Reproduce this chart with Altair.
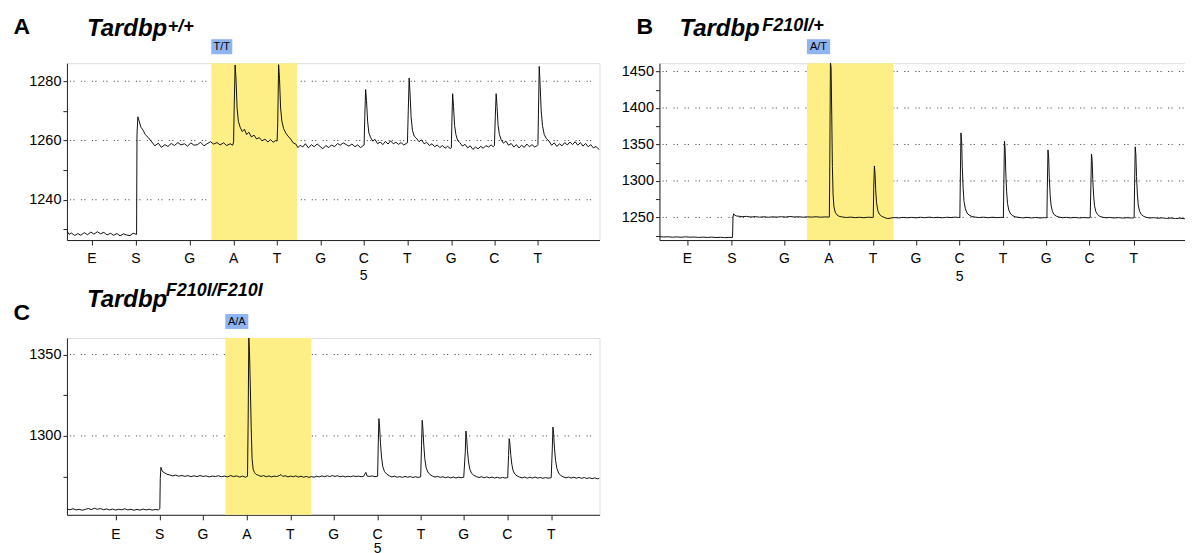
import altair as alt
import pandas as pd

FONT = "Liberation Sans"
W, H = 533, 177
XMAX = 12.24

# dispensation order (x-axis labels)
DISP = ["E", "S", "G", "A", "T", "G", "C", "T", "G", "C", "T"]
POS_A = [0.575, 1.586, 2.82, 3.83, 4.83, 5.83, 6.82, 7.82, 8.83, 9.82, 10.82]
POS_B = [0.644, 1.664, 2.874, 3.894, 4.906, 5.894, 6.897, 7.894, 8.89, 9.885, 10.9]
POS_C = [1.126, 2.129, 3.126, 4.138, 5.133, 6.13, 7.14, 8.14, 9.12, 10.12, 11.13]

# y axes
YDOM_A = [1226.4, 1286.1]
YTICK_A = [1230, 1240, 1250, 1260, 1270, 1280]
YLAB_A = [1240, 1260, 1280]
YDOM_B = [1219.0, 1461.4]
YTICK_B = [1225, 1250, 1275, 1300, 1325, 1350, 1375, 1400, 1425, 1450]
YLAB_B = [1250, 1300, 1350, 1400, 1450]
YDOM_C = [1251.5, 1360.2]
YTICK_C = [1275, 1300, 1325, 1350]
YLAB_C = [1300, 1350]

# highlighted variant position and genotype calls
HL_A = [3.32, 5.29]
HL_B = [3.39, 5.38]
HL_C = [3.64, 5.62]
CALL_A = ["T/T", 3.317, 3.80]
CALL_B = ["A/T", 3.389, 3.924]
CALL_C = ["A/A", 3.639, 4.168]

TRACE_A = [
    (0.00, 1229.5), (0.05, 1228.3), (0.10, 1228.8), (0.18, 1227.9), (0.25, 1228.6), (0.32, 1228.0),
    (0.40, 1228.9), (0.47, 1228.2), (0.55, 1229.1), (0.62, 1228.4), (0.70, 1229.2), (0.77, 1228.5),
    (0.85, 1229.0), (0.92, 1228.1), (1.00, 1228.7), (1.07, 1228.0), (1.15, 1228.6), (1.22, 1227.8),
    (1.30, 1228.5), (1.37, 1228.1), (1.45, 1227.9), (1.52, 1228.7), (1.60, 1228.3),
    (1.61, 1262.0), (1.63, 1268.0), (1.66, 1266.5), (1.70, 1264.5), (1.75, 1263.5), (1.80, 1262.0),
    (1.87, 1261.0), (1.95, 1259.5), (2.02, 1258.2), (2.10, 1259.1), (2.17, 1257.7), (2.25, 1258.6),
    (2.32, 1258.0), (2.40, 1259.0), (2.47, 1258.3), (2.55, 1259.3), (2.62, 1258.5), (2.70, 1258.9),
    (2.77, 1258.1), (2.85, 1259.2), (2.92, 1258.4), (3.00, 1258.6), (3.07, 1259.4), (3.15, 1258.2),
    (3.22, 1258.9), (3.30, 1259.6), (3.37, 1258.8), (3.45, 1259.3), (3.52, 1258.5), (3.60, 1259.2),
    (3.67, 1258.3), (3.75, 1258.9), (3.81, 1258.4), (3.83, 1259.5),
    (3.845, 1272.0), (3.865, 1285.5), (3.885, 1281.0), (3.91, 1271.0), (3.94, 1266.5), (3.98, 1264.5),
    (4.03, 1263.0), (4.08, 1263.8), (4.13, 1262.0), (4.18, 1262.8), (4.24, 1261.2), (4.30, 1261.8),
    (4.36, 1260.5), (4.42, 1261.0), (4.48, 1259.9), (4.55, 1260.4), (4.62, 1259.5), (4.68, 1260.3),
    (4.74, 1259.4), (4.80, 1260.0), (4.83, 1259.8),
    (4.845, 1266.0), (4.865, 1285.6), (4.885, 1281.0), (4.91, 1271.0), (4.94, 1266.5), (4.98, 1264.0),
    (5.03, 1262.5), (5.08, 1261.5), (5.14, 1260.5), (5.20, 1259.2), (5.26, 1258.8), (5.31, 1257.6),
    (5.36, 1258.4), (5.42, 1257.8), (5.48, 1258.9), (5.55, 1257.5), (5.62, 1258.6), (5.68, 1257.9),
    (5.75, 1258.8), (5.82, 1258.0), (5.88, 1257.2), (5.95, 1258.3), (6.02, 1257.6), (6.08, 1258.5),
    (6.15, 1257.9), (6.22, 1259.0), (6.28, 1258.4), (6.35, 1259.2), (6.42, 1258.6), (6.48, 1258.1),
    (6.55, 1258.8), (6.62, 1257.9), (6.68, 1258.5), (6.75, 1257.6), (6.80, 1258.2), (6.83, 1258.5),
    (6.845, 1268.0), (6.865, 1277.2), (6.885, 1273.5), (6.91, 1266.5), (6.94, 1262.5), (6.98, 1261.0),
    (7.03, 1259.8), (7.08, 1260.4), (7.14, 1258.9), (7.20, 1259.5), (7.26, 1258.6), (7.32, 1259.7),
    (7.38, 1258.8), (7.44, 1259.9), (7.50, 1258.9), (7.56, 1259.4), (7.62, 1258.7), (7.68, 1259.3),
    (7.74, 1258.5), (7.80, 1259.0), (7.825, 1259.2),
    (7.845, 1270.0), (7.865, 1281.1), (7.885, 1276.0), (7.91, 1268.0), (7.94, 1263.5), (7.98, 1261.5),
    (8.03, 1260.8), (8.09, 1259.6), (8.15, 1260.2), (8.21, 1258.9), (8.27, 1259.4), (8.33, 1258.3),
    (8.39, 1258.9), (8.45, 1257.9), (8.51, 1258.5), (8.57, 1257.6), (8.63, 1258.3), (8.69, 1257.4),
    (8.75, 1258.0), (8.81, 1257.3), (8.835, 1257.5),
    (8.85, 1268.0), (8.865, 1275.8), (8.885, 1271.5), (8.91, 1265.0), (8.94, 1262.0), (8.98, 1260.0),
    (9.03, 1259.3), (9.09, 1258.1), (9.15, 1258.7), (9.21, 1257.5), (9.27, 1258.2), (9.33, 1257.0),
    (9.39, 1257.8), (9.45, 1257.2), (9.51, 1258.0), (9.57, 1257.4), (9.63, 1258.3), (9.69, 1257.8),
    (9.75, 1258.5), (9.80, 1257.9), (9.825, 1258.3),
    (9.845, 1268.0), (9.865, 1275.8), (9.885, 1271.5), (9.91, 1265.0), (9.94, 1262.0), (9.98, 1260.3),
    (10.03, 1259.1), (10.09, 1259.8), (10.15, 1258.4), (10.21, 1259.0), (10.27, 1257.8), (10.33, 1258.6),
    (10.39, 1257.5), (10.45, 1258.4), (10.51, 1257.7), (10.57, 1258.8), (10.63, 1257.9), (10.69, 1258.6),
    (10.75, 1257.8), (10.81, 1258.3), (10.825, 1258.6),
    (10.84, 1272.0), (10.855, 1285.0), (10.875, 1279.0), (10.90, 1270.0), (10.93, 1265.0), (10.97, 1262.0),
    (11.02, 1260.6), (11.08, 1259.8), (11.14, 1258.4), (11.20, 1259.2), (11.26, 1258.0), (11.32, 1258.9),
    (11.38, 1258.2), (11.44, 1259.3), (11.50, 1258.5), (11.56, 1259.5), (11.62, 1258.6), (11.68, 1259.6),
    (11.74, 1258.4), (11.80, 1259.3), (11.86, 1258.1), (11.92, 1259.0), (11.98, 1257.9), (12.04, 1258.6),
    (12.10, 1257.5), (12.16, 1258.0), (12.24, 1256.8),
]

TRACE_B = [
    (0.00, 1223.6), (0.10, 1223.2), (0.20, 1223.5), (0.30, 1222.9), (0.40, 1223.3), (0.50, 1222.8),
    (0.60, 1223.4), (0.70, 1222.9), (0.80, 1223.1), (0.90, 1222.6), (1.00, 1223.0), (1.10, 1222.5),
    (1.20, 1223.0), (1.30, 1222.4), (1.40, 1222.8), (1.50, 1222.3), (1.60, 1222.7), (1.68, 1222.5),
    (1.69, 1250.0), (1.705, 1255.0), (1.73, 1253.0), (1.77, 1252.0), (1.83, 1251.6), (1.90, 1251.0),
    (2.00, 1251.4), (2.10, 1250.6), (2.20, 1251.1), (2.30, 1250.3), (2.40, 1250.9), (2.50, 1250.2),
    (2.60, 1250.8), (2.70, 1250.4), (2.80, 1251.0), (2.90, 1250.5), (3.00, 1251.2), (3.10, 1250.6),
    (3.20, 1250.9), (3.30, 1250.3), (3.40, 1250.8), (3.50, 1250.4), (3.60, 1250.9), (3.70, 1250.3),
    (3.80, 1250.7), (3.88, 1250.5), (3.905, 1250.6),
    (3.915, 1320.0), (3.93, 1463.0), (3.945, 1455.0), (3.96, 1390.0), (3.975, 1320.0), (3.99, 1282.0),
    (4.01, 1265.0), (4.04, 1257.0), (4.08, 1253.5), (4.13, 1251.5), (4.20, 1250.6), (4.30, 1249.9),
    (4.40, 1250.4), (4.50, 1249.7), (4.60, 1250.2), (4.70, 1249.6), (4.80, 1250.3), (4.90, 1249.9),
    (4.915, 1250.0),
    (4.925, 1290.0), (4.94, 1320.6), (4.955, 1310.0), (4.97, 1288.0), (4.99, 1270.0), (5.02, 1259.0),
    (5.06, 1254.0), (5.11, 1251.5), (5.18, 1249.6), (5.25, 1248.4), (5.32, 1249.2), (5.40, 1249.8),
    (5.50, 1249.3), (5.60, 1250.0), (5.70, 1249.5), (5.80, 1250.1), (5.90, 1249.4), (6.00, 1250.2),
    (6.10, 1249.6), (6.20, 1250.3), (6.30, 1249.7), (6.40, 1250.1), (6.50, 1249.5), (6.60, 1250.2),
    (6.70, 1249.8), (6.80, 1250.4), (6.88, 1249.9), (6.905, 1250.0),
    (6.915, 1300.0), (6.93, 1365.9), (6.945, 1355.0), (6.96, 1320.0), (6.98, 1290.0), (7.00, 1272.0),
    (7.03, 1262.0), (7.07, 1256.0), (7.12, 1253.0), (7.18, 1251.3), (7.26, 1250.4), (7.35, 1249.8),
    (7.45, 1250.3), (7.55, 1249.6), (7.65, 1250.2), (7.75, 1249.7), (7.85, 1250.1), (7.905, 1249.9),
    (7.915, 1295.0), (7.93, 1354.4), (7.945, 1344.0), (7.96, 1312.0), (7.98, 1285.0), (8.00, 1269.0),
    (8.03, 1260.0), (8.07, 1255.0), (8.12, 1252.3), (8.18, 1250.8), (8.26, 1250.0), (8.35, 1249.4),
    (8.45, 1250.0), (8.55, 1249.3), (8.65, 1249.9), (8.75, 1249.2), (8.85, 1249.7), (8.905, 1249.4),
    (8.915, 1290.0), (8.93, 1342.6), (8.945, 1333.0), (8.96, 1305.0), (8.98, 1281.0), (9.00, 1267.0),
    (9.03, 1258.5), (9.07, 1254.0), (9.12, 1251.8), (9.18, 1250.5), (9.26, 1249.6), (9.35, 1250.1),
    (9.45, 1249.4), (9.55, 1250.0), (9.65, 1249.3), (9.75, 1249.8), (9.85, 1249.5), (9.90, 1249.7),
    (9.915, 1290.0), (9.93, 1337.0), (9.945, 1328.0), (9.96, 1302.0), (9.98, 1279.0), (10.00, 1266.0),
    (10.03, 1258.0), (10.07, 1253.8), (10.12, 1251.5), (10.18, 1250.3), (10.26, 1249.5), (10.35, 1250.0),
    (10.45, 1249.2), (10.55, 1249.8), (10.65, 1249.1), (10.75, 1249.6), (10.85, 1249.2), (10.91, 1249.4),
    (10.92, 1292.0), (10.935, 1346.7), (10.95, 1336.0), (10.965, 1306.0), (10.985, 1282.0), (11.005, 1267.0),
    (11.035, 1258.5), (11.075, 1254.0), (11.125, 1251.6), (11.19, 1250.0), (11.27, 1249.2), (11.36, 1249.7),
    (11.46, 1248.9), (11.56, 1249.4), (11.66, 1248.6), (11.76, 1249.2), (11.86, 1248.4), (11.96, 1249.0),
    (12.06, 1248.2), (12.16, 1248.8), (12.24, 1248.3),
]

TRACE_C = [
    (0.00, 1255.0), (0.07, 1254.6), (0.14, 1255.2), (0.21, 1254.5), (0.28, 1254.9), (0.35, 1254.3),
    (0.42, 1254.8), (0.49, 1255.4), (0.56, 1254.7), (0.63, 1255.5), (0.70, 1254.9), (0.77, 1255.3),
    (0.84, 1254.6), (0.91, 1255.1), (0.98, 1254.5), (1.05, 1255.0), (1.12, 1254.4), (1.19, 1254.9),
    (1.26, 1254.6), (1.33, 1255.2), (1.40, 1254.5), (1.47, 1254.9), (1.54, 1254.3), (1.61, 1254.8),
    (1.68, 1254.4), (1.75, 1255.0), (1.82, 1254.5), (1.89, 1254.9), (1.96, 1254.4), (2.03, 1254.8),
    (2.10, 1254.5), (2.135, 1255.2),
    (2.145, 1274.0), (2.16, 1280.7), (2.18, 1279.0), (2.21, 1277.8), (2.25, 1277.2), (2.30, 1276.4),
    (2.36, 1276.0), (2.43, 1275.4), (2.50, 1275.9), (2.57, 1275.2), (2.64, 1275.7), (2.71, 1275.1),
    (2.78, 1275.6), (2.85, 1274.9), (2.92, 1275.5), (2.99, 1275.0), (3.06, 1275.6), (3.13, 1275.1),
    (3.20, 1275.4), (3.27, 1274.8), (3.34, 1275.3), (3.41, 1275.0), (3.48, 1275.5), (3.55, 1274.9),
    (3.62, 1275.3), (3.69, 1274.8), (3.76, 1275.6), (3.83, 1275.0), (3.90, 1275.4), (3.97, 1274.7),
    (4.04, 1275.3), (4.10, 1274.6), (4.15, 1275.2),
    (4.165, 1310.0), (4.18, 1360.5), (4.195, 1352.0), (4.215, 1330.0), (4.235, 1305.0), (4.255, 1286.0),
    (4.28, 1279.5), (4.31, 1277.5), (4.35, 1276.3), (4.40, 1275.8), (4.46, 1275.1), (4.52, 1275.6),
    (4.58, 1274.9), (4.64, 1275.4), (4.70, 1274.8), (4.76, 1275.3), (4.82, 1275.0), (4.88, 1275.6),
    (4.92, 1276.2), (4.96, 1275.1), (5.02, 1275.5), (5.08, 1274.8), (5.14, 1275.3), (5.20, 1274.9),
    (5.26, 1275.4), (5.32, 1274.7), (5.38, 1275.2), (5.44, 1274.6), (5.50, 1275.1), (5.56, 1274.5),
    (5.62, 1275.0), (5.68, 1274.6), (5.74, 1275.2), (5.80, 1274.8), (5.86, 1275.4), (5.92, 1274.9),
    (5.98, 1275.5), (6.04, 1275.0), (6.10, 1275.6), (6.16, 1275.1), (6.22, 1275.5), (6.28, 1274.9),
    (6.34, 1275.3), (6.40, 1274.8), (6.46, 1275.2), (6.52, 1274.9), (6.58, 1275.4), (6.64, 1275.0),
    (6.70, 1275.3), (6.76, 1274.9), (6.82, 1275.2), (6.87, 1277.6), (6.90, 1275.3), (6.96, 1275.1),
    (7.02, 1275.4), (7.08, 1274.9), (7.14, 1275.2),
    (7.155, 1295.0), (7.17, 1310.6), (7.185, 1306.0), (7.205, 1296.0), (7.23, 1287.0), (7.26, 1281.0),
    (7.30, 1278.0), (7.35, 1276.5), (7.41, 1275.4), (7.47, 1274.8), (7.53, 1275.2), (7.59, 1274.6),
    (7.65, 1275.0), (7.71, 1274.5), (7.77, 1275.1), (7.83, 1274.6), (7.89, 1275.0), (7.95, 1274.4),
    (8.01, 1274.9), (8.07, 1274.5), (8.13, 1274.8),
    (8.15, 1294.0), (8.165, 1309.6), (8.18, 1305.0), (8.20, 1295.0), (8.225, 1286.0), (8.255, 1280.5),
    (8.295, 1277.8), (8.345, 1276.2), (8.40, 1275.3), (8.46, 1274.7), (8.52, 1275.1), (8.58, 1274.5),
    (8.64, 1274.9), (8.70, 1274.3), (8.76, 1274.8), (8.82, 1274.2), (8.88, 1274.7), (8.94, 1274.1),
    (9.00, 1274.6), (9.06, 1274.3), (9.12, 1274.6),
    (9.155, 1290.0), (9.17, 1303.0), (9.185, 1299.5), (9.205, 1291.0), (9.23, 1284.0), (9.26, 1279.5),
    (9.30, 1277.0), (9.35, 1275.8), (9.41, 1275.0), (9.47, 1274.4), (9.53, 1274.9), (9.59, 1274.3),
    (9.65, 1274.8), (9.71, 1274.2), (9.77, 1274.7), (9.83, 1274.1), (9.89, 1274.6), (9.95, 1274.0),
    (10.01, 1274.5), (10.07, 1274.1), (10.13, 1274.4),
    (10.15, 1288.0), (10.165, 1298.3), (10.18, 1295.5), (10.20, 1288.5), (10.225, 1282.5), (10.255, 1278.6),
    (10.295, 1276.5), (10.345, 1275.4), (10.40, 1274.7), (10.46, 1274.2), (10.52, 1274.7), (10.58, 1274.0),
    (10.64, 1274.6), (10.70, 1274.1), (10.76, 1274.7), (10.82, 1274.0), (10.88, 1274.5), (10.94, 1273.9),
    (11.00, 1274.4), (11.06, 1274.0), (11.13, 1274.3),
    (11.155, 1292.0), (11.17, 1305.4), (11.185, 1301.5), (11.205, 1292.5), (11.23, 1285.0), (11.26, 1280.0),
    (11.30, 1277.2), (11.35, 1275.6), (11.41, 1274.8), (11.47, 1274.2), (11.53, 1274.7), (11.59, 1274.1),
    (11.65, 1274.6), (11.71, 1274.0), (11.77, 1274.5), (11.83, 1273.9), (11.89, 1274.4), (11.95, 1273.8),
    (12.01, 1274.3), (12.07, 1273.7), (12.13, 1274.2), (12.19, 1273.6), (12.24, 1274.0),
]

YELLOW = "#FDEF86"
BLUE = "#8FB4EF"
AXC = "#222222"


def panel(trace, pos, ydom, yticks, ylabs, hl, call, letter, sup, letter_xy, title_y, sup_xy, five_dy, lab_dy):
    xs = alt.Scale(domain=[0, XMAX], nice=False, zero=False)
    ys = alt.Scale(domain=ydom, nice=False, zero=False)
    xaxis = alt.Axis(values=pos, labels=False, ticks=True, tickSize=5, grid=False, title=None,
                     domainColor=AXC, tickColor=AXC)
    labs = ",".join(str(v) for v in ylabs)
    yaxis = alt.Axis(values=yticks, format="d", tickSize=4, labelPadding=2, grid=False, title=None,
                     labelFont=FONT, labelFontSize=14.5, labelColor="black", labelOverlap=False,
                     domainColor=AXC, tickColor=AXC,
                     labelExpr="indexof([" + labs + "], datum.value) >= 0 ? datum.label : ''")

    grid = alt.Chart(pd.DataFrame({"g": ylabs})).mark_rule(
        color="#555555", strokeWidth=1, strokeDash=[1.2, 2.2, 1.2, 6.4]
    ).encode(y=alt.Y("g:Q", scale=ys, axis=yaxis), x=alt.value(3), x2=alt.value(W - 3))

    hdf = pd.DataFrame({"x0": [hl[0]], "x1": [hl[1]]})
    band = alt.Chart(hdf).mark_rect(color=YELLOW).encode(
        x=alt.X("x0:Q", scale=xs, axis=xaxis), x2="x1:Q", y=alt.value(0), y2=alt.value(H))

    tdf = pd.DataFrame(trace, columns=["t", "v"])
    line = alt.Chart(tdf).mark_line(color="#111111", strokeWidth=1, clip=True).encode(
        x=alt.X("t:Q", scale=xs, axis=xaxis), y=alt.Y("v:Q", scale=ys, axis=yaxis))

    cdf = pd.DataFrame({"c": [call[0]], "b0": [call[1]], "b1": [call[2]],
                        "bm": [(call[1] + call[2]) / 2]})
    cbox = alt.Chart(cdf).mark_rect(color=BLUE).encode(
        x=alt.X("b0:Q", scale=xs, axis=xaxis), x2="b1:Q", y=alt.value(-24), y2=alt.value(-9))
    ctext = alt.Chart(cdf).mark_text(font=FONT, fontSize=11, color="black", baseline="middle").encode(
        x=alt.X("bm:Q", scale=xs, axis=xaxis), y=alt.value(-16), text="c:N")

    ldf = pd.DataFrame({"p": pos, "l": DISP})
    xlab = alt.Chart(ldf).mark_text(font=FONT, fontSize=14, color="black", baseline="middle").encode(
        x=alt.X("p:Q", scale=xs, axis=xaxis), y=alt.value(H + lab_dy), text="l:N")
    fdf = pd.DataFrame({"p": [pos[6]], "l": ["5"]})
    five = alt.Chart(fdf).mark_text(font=FONT, fontSize=14, color="black", baseline="middle").encode(
        x=alt.X("p:Q", scale=xs, axis=xaxis), y=alt.value(H + five_dy), text="l:N")

    let = alt.Chart(pd.DataFrame({"s": [letter]})).mark_text(
        font=FONT, fontSize=23, fontWeight="bold", align="left", baseline="alphabetic", color="black"
    ).encode(x=alt.value(letter_xy[0]), y=alt.value(letter_xy[1]), text="s:N")
    gene = alt.Chart(pd.DataFrame({"s": ["Tardbp"]})).mark_text(
        font=FONT, fontSize=24, fontWeight="bold", fontStyle="italic", align="left",
        baseline="alphabetic", color="black"
    ).encode(x=alt.value(20), y=alt.value(title_y), text="s:N")
    supm = alt.Chart(pd.DataFrame({"s": [sup]})).mark_text(
        font=FONT, fontSize=18, fontWeight="bold", fontStyle="italic", align="left",
        baseline="alphabetic", color="black"
    ).encode(x=alt.value(sup_xy[0]), y=alt.value(sup_xy[1]), text="s:N")

    return alt.layer(grid, band, line, cbox, ctext, xlab, five, let, gene, supm).properties(
        width=W, height=H)


pa = panel(TRACE_A, POS_A, YDOM_A, YTICK_A, YLAB_A, HL_A, CALL_A, "A", "+/+",
           (-53.4, -29.5), -27.5, (101, -31), 36, 19)
pb = panel(TRACE_B, POS_B, YDOM_B, YTICK_B, YLAB_B, HL_B, CALL_B, "B", "F210I/+",
           (-23, -29.5), -27.5, (103, -32.7), 37, 19)
pc = panel(TRACE_C, POS_C, YDOM_C, YTICK_C, YLAB_C, HL_C, CALL_C, "C", "F210I/F210I",
           (-53.4, -18), -31, (99, -41.5), 34.5, 20)

chart = alt.concat(pa, pb, pc, columns=2, spacing={"row": 98, "column": 60}, bounds="flush").configure_view(
    stroke="#8a8a8a", strokeWidth=1.5
).configure(background="white").properties(
    padding={"left": 5, "top": 7, "right": -8, "bottom": 0}
)

chart.save("out.html", embed_options={"renderer": "svg", "actions": False})
